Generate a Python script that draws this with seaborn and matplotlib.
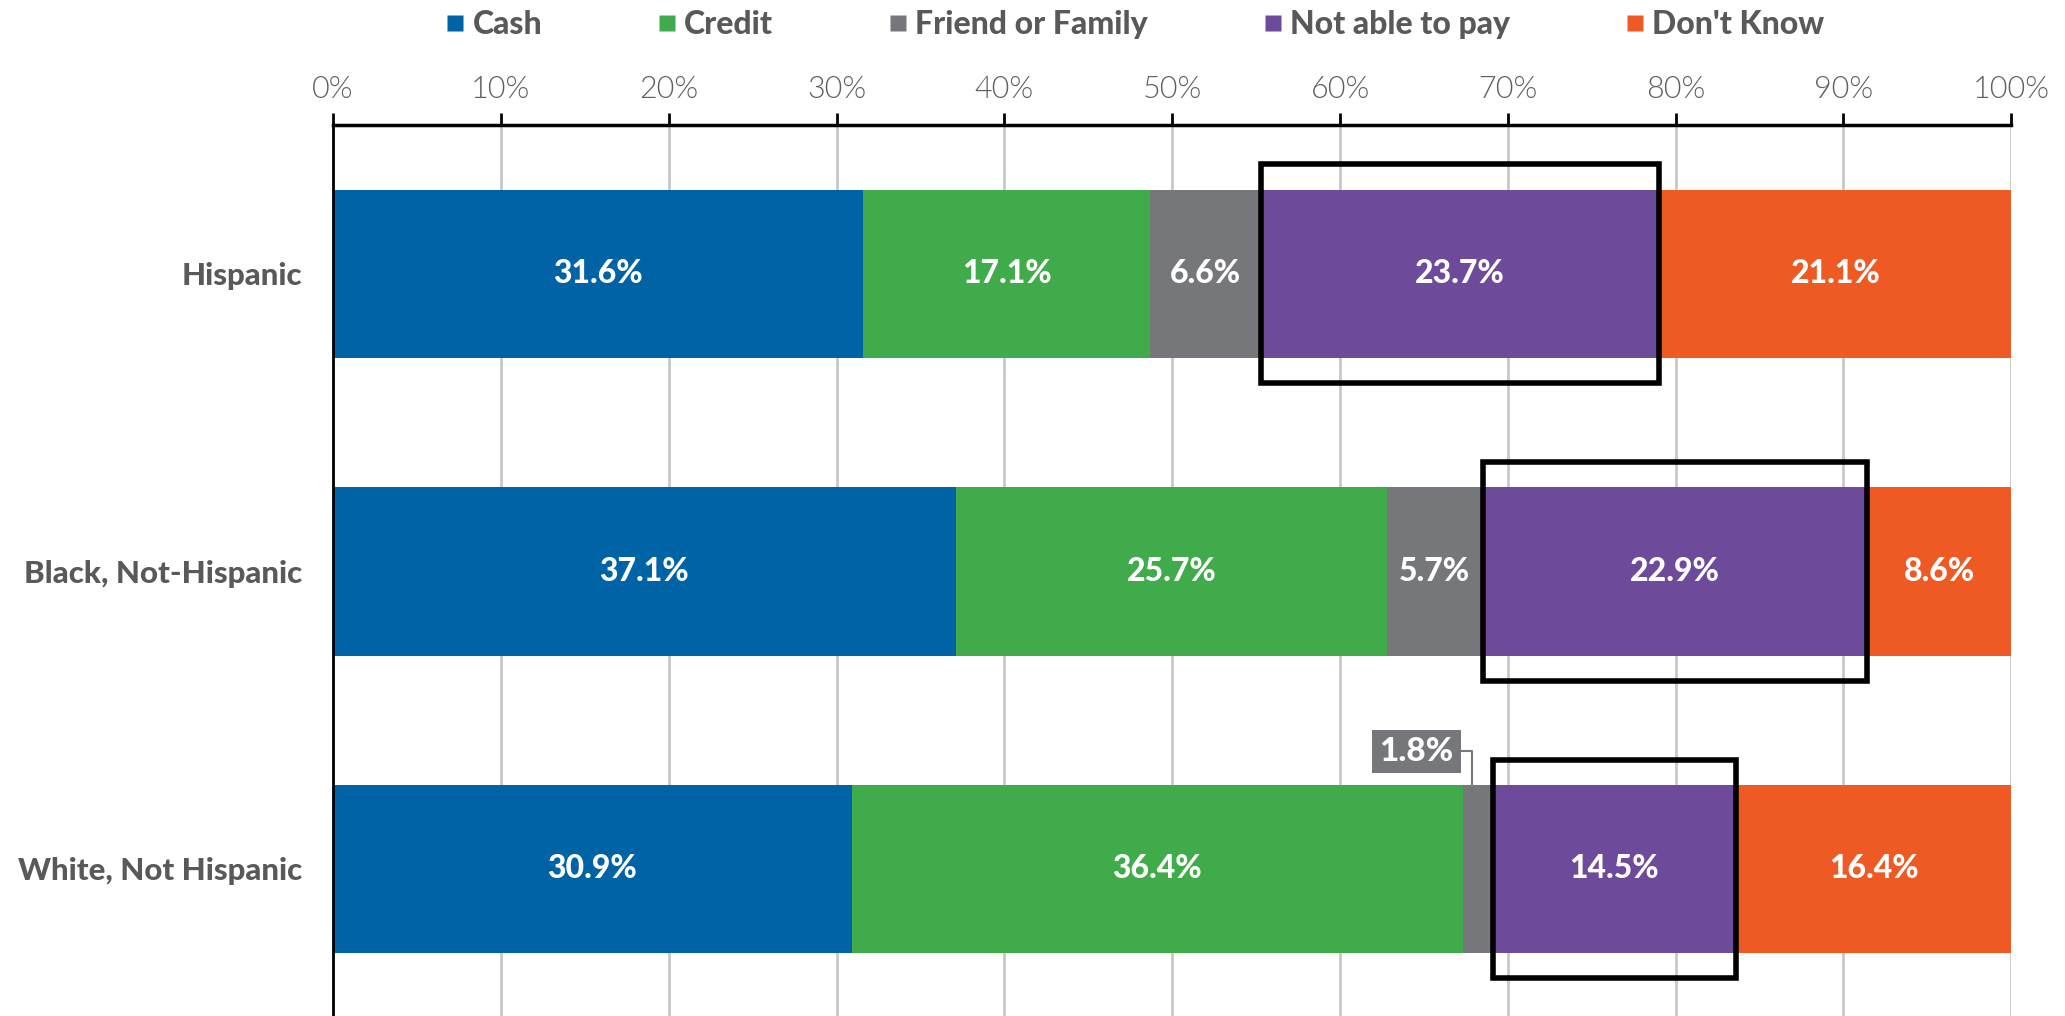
import matplotlib
matplotlib.use("Agg")
import matplotlib.pyplot as plt
from matplotlib.patches import Rectangle
from matplotlib.lines import Line2D
import seaborn as sns
import pandas as pd
import numpy as np

categories = ["Hispanic", "Black, Not-Hispanic", "White, Not Hispanic"]
series_names = ["Cash", "Credit", "Friend or Family", "Not able to pay", "Don't Know"]
cash = [31.6, 37.1, 30.9]
credit = [17.1, 25.7, 36.4]
friend = [6.6, 5.7, 1.8]
not_able = [23.7, 22.9, 14.5]
dont_know = [21.1, 8.6, 16.4]
colors = ["#0063A6", "#3FAB4A", "#76777B", "#6E4A9B", "#EF5A24"]
xticks = [0, 10, 20, 30, 40, 50, 60, 70, 80, 90, 100]
xtick_labels = [f"{t}%" for t in xticks]

sns.set_theme(style="white")
plt.rcParams["font.family"] = ["Lato", "DejaVu Sans"]

values = [cash, credit, friend, not_able, dont_know]
vals = np.array(values)
cum = np.cumsum(vals, axis=0)

fig = plt.figure(figsize=(20.65, 10.16), dpi=100)
ax = fig.add_axes([0.1613, 0.0, 0.974 - 0.1613, 0.877])

bar_h = 0.566
for i in range(len(series_names) - 1, -1, -1):
    df = pd.DataFrame({"cat": categories, "val": cum[i]})
    sns.barplot(data=df, x="val", y="cat", order=categories, orient="h",
                color=colors[i], width=bar_h, saturation=1, ax=ax,
                linewidth=0, zorder=2)

# labels inside bars
for j, cat in enumerate(categories):
    for i in range(len(series_names)):
        v = vals[i, j]
        left = cum[i, j] - v
        if i == 2 and v < 3:
            ax.annotate(f"{v:.1f}%", xy=(left + v * 0.32, j - bar_h / 2),
                        xytext=(-13.5, 24), textcoords="offset points",
                        ha="right", va="center", color="white",
                        fontsize=24, fontweight="black",
                        bbox=dict(boxstyle="square,pad=0.22", fc=colors[2], ec="none"),
                        arrowprops=dict(arrowstyle="-", color="#76777B", lw=1.5,
                                        shrinkA=0, shrinkB=0,
                                        connectionstyle="angle,angleA=0,angleB=90,rad=0"),
                        zorder=5)
        else:
            ax.text(left + v / 2, j, f"{v:.1f}%", ha="center", va="center",
                    color="white", fontsize=23, fontweight="black", zorder=4)

# highlight boxes around "Not able to pay"
box_h = 0.735
for j in range(len(categories)):
    v = vals[3, j]
    left = cum[3, j] - v
    ax.add_patch(Rectangle((left, j - box_h / 2), v, box_h, fill=False,
                           ec="black", lw=4, zorder=6, clip_on=False))

ax.set_xlim(0, 100)
ax.set_ylim(2.494, -0.50)
ax.set_xlabel("")
ax.set_ylabel("")
ax.xaxis.tick_top()
ax.set_xticks(xticks)
ax.set_xticklabels(xtick_labels, fontsize=22, fontweight=300, color="#606060")
ax.tick_params(axis="x", which="major", direction="out", length=9, width=2,
               color="black", pad=6, top=True, bottom=False)
ax.tick_params(axis="y", length=0, pad=22)
for lab in ax.get_yticklabels():
    lab.set_fontsize(22.5)
    lab.set_fontweight("black")
    lab.set_color("#595959")

ax.grid(axis="x", color="#C8C8C8", lw=2, zorder=0)
ax.set_axisbelow(True)
for s in ["right", "bottom"]:
    ax.spines[s].set_visible(False)
ax.spines["top"].set_color("black")
ax.spines["top"].set_linewidth(2.5)
ax.spines["left"].set_color("black")
ax.spines["left"].set_linewidth(2)

handles = [Line2D([0], [0], marker="s", linestyle="none", markersize=12,
                  markerfacecolor=c, markeredgecolor="none") for c in colors]
leg = fig.legend(handles, series_names, loc="center", bbox_to_anchor=(0.548, 0.976),
                 ncol=5, frameon=False, handletextpad=0.05, columnspacing=3.4,
                 handlelength=1.0, prop=dict(size=23, weight="black"),
                 labelcolor="#595959")

fig.savefig("out.png", dpi=100)
